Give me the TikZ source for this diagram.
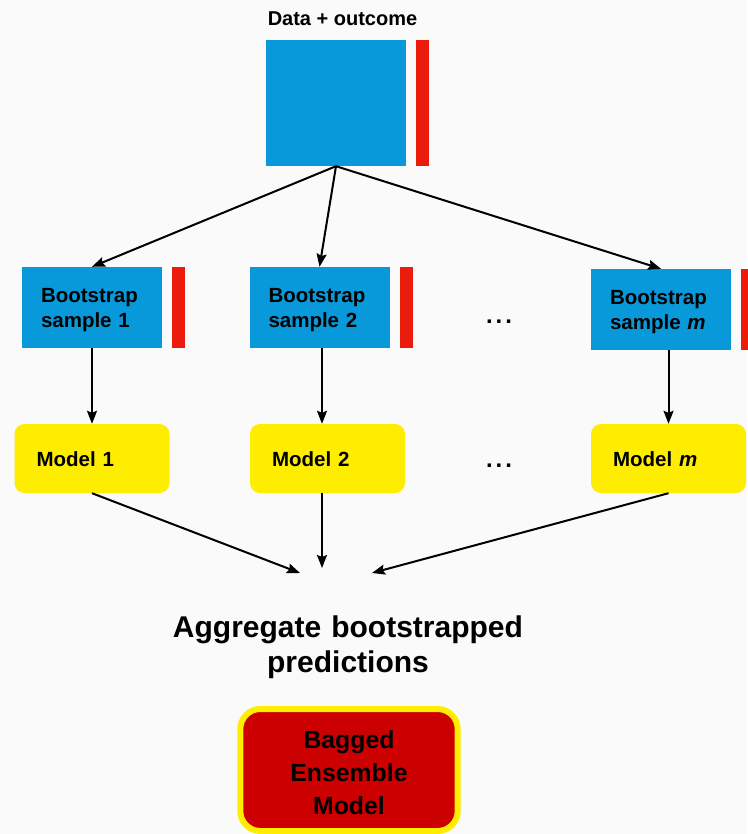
\documentclass[tikz,border=0pt]{standalone}
\usepackage{fontspec}
\setmainfont{Liberation Sans}
\usetikzlibrary{positioning,arrows.meta}
\definecolor{sampleblue}{HTML}{0899DA}
\definecolor{outcomered}{HTML}{EB1C0C}
\definecolor{modelyellow}{HTML}{FFED00}
\definecolor{baggedred}{HTML}{CC0000}
\definecolor{paper}{HTML}{FAFAFA}
\tikzset{
  sample/.style={fill=sampleblue, text width=102pt, inner xsep=19pt, inner ysep=0pt, minimum height=81pt, align=left, text height=0pt, text depth=10pt},
  outbar/.style={fill=outcomered, minimum width=13pt, minimum height=81pt, inner sep=0pt},
  model/.style={fill=modelyellow, rounded corners=10pt, text width=111pt, inner xsep=22pt, inner ysep=0pt, minimum height=69pt, align=left, text height=16.4pt, text depth=0pt},
  dotsrow/.style={anchor=base, font=\bfseries\fontsize{24}{28}\selectfont}
}
\begin{document}
\begin{tikzpicture}[x=1pt, y=-1pt, node distance=10pt]
            \fill[paper] (0,0) rectangle (747,834);
            \useasboundingbox (0,0) rectangle (747,834);
            \begin{scope}[every node/.style={font=\bfseries\fontsize{20.5}{24.5}\selectfont}]
            \node[anchor=base, font=\bfseries\fontsize{20}{24}\selectfont] (title) at (342.5,26) {Data + outcome};
            \node[fill=sampleblue, minimum width=140pt, minimum height=126pt, inner sep=0pt] (data) at (336,103) {};
            \node[outbar, minimum height=126pt, right=10pt of data] (databar) {};
            \node[sample] (b1) at (92,307.5) {Bootstrap\\sample 1};
            \node[sample] (b2) at (319.5,307.5) {Bootstrap\\sample 2};
            \node[sample] (bm) at (661,309.5) {Bootstrap\\sample \textit{m}};
            \node[outbar, right=10pt of b1] (b1bar) {};
            \node[outbar, right=10pt of b2] (b2bar) {};
            \node[outbar, right=10pt of bm] (bmbar) {};
            \node[dotsrow] (bdots) at (499,323) {.\kern3pt.\kern3pt.};
            \node[model] (m1) at (92,458.5) {Model 1};
            \node[model] (m2) at (327.5,458.5) {Model 2};
            \node[model] (mm) at (668.5,458.5) {Model \textit{m}};
            \node[dotsrow] (mdots) at (499,467) {.\kern3pt.\kern3pt.};
            \node[anchor=base, text width=400pt, align=center, font=\bfseries\fontsize{30}{35.4}\selectfont] (agg) at (348,637.3) {Aggregate bootstrapped\\predictions};
            \node[fill=baggedred, draw=modelyellow, line width=6pt, rounded corners=20pt, minimum width=217.4pt, minimum height=122pt, inner sep=0pt, text width=217pt, align=center, text height=0pt, text depth=43.4pt, font=\bfseries\fontsize{24.8}{33}\selectfont] (bagged) at (349,770) {Bagged\\Ensemble\\Model};
            \end{scope}
            \coordinate (agg1) at (300,573);
            \coordinate (agg2) at (322,568);
            \coordinate (aggm) at (372,573);
            \begin{scope}[every edge/.style={draw=black, line width=2pt, -{Stealth[length=13pt,width=10pt,inset=2pt]}}]
            \draw (data.south) edge (b1.north);
            \draw (data.south) edge (b2.north);
            \draw (data.south) edge (bm.north);
            \draw (b1.south) edge (m1.north);
            \draw (agg2 |- b2.south) edge (agg2 |- m2.north);
            \draw (mm.north |- bm.south) edge (mm.north);
            \draw (m1.south) edge (agg1);
            \draw (agg2 |- m2.south) edge (agg2);
            \draw (mm.south) edge (aggm);
            \end{scope}
            \end{tikzpicture}
\end{document}
